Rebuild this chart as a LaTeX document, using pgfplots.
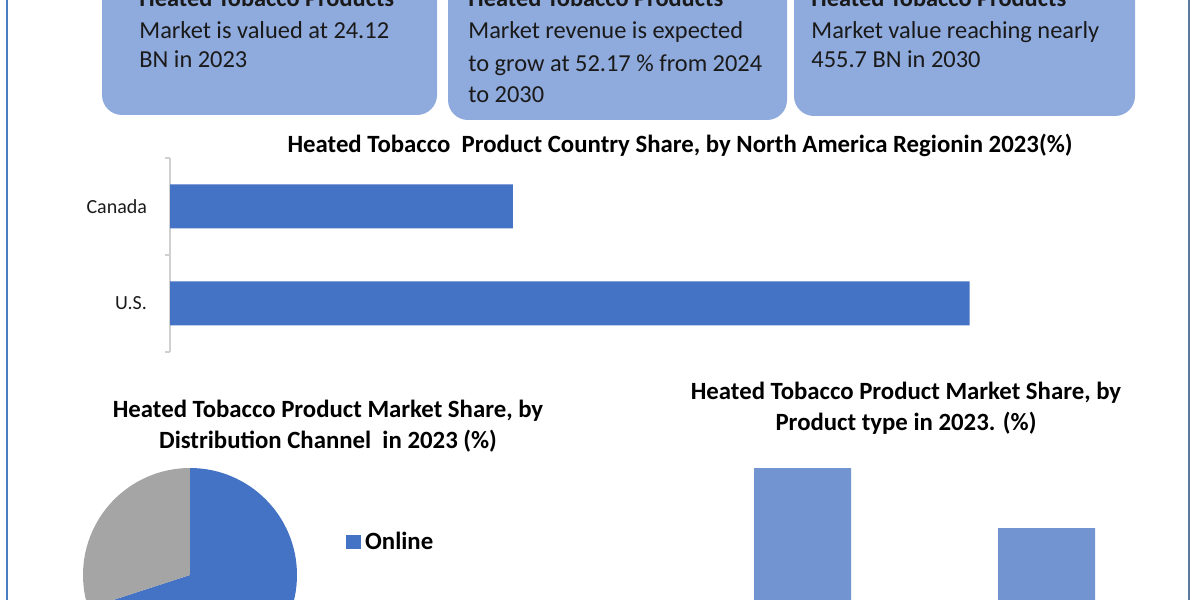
\documentclass[border=0pt]{standalone}
\usepackage{pgfplots}
\pgfplotsset{compat=1.18}
\usepackage{pgfplotstable}
\usepackage{fontspec}
\setmainfont{Carlito}
\definecolor{boxblue}{HTML}{8FAADC}
\definecolor{barblue}{HTML}{4472C4}
\definecolor{lightbar}{HTML}{7294D0}
\definecolor{piegray}{HTML}{A5A5A5}
\definecolor{edgeL}{HTML}{4A7EBF}
\definecolor{edgeR}{HTML}{5B7A9E}
\definecolor{txt}{HTML}{1A1A1A}
\definecolor{axgray}{HTML}{D0D0D0}

\pgfplotstableread{
country share
U.S. 70
Canada 30
}\countrydata

\pgfplotstableread{
channel share
Online 70
Offline 30
}\channeldata

\pgfplotstableread{
type share
TypeA 60
TypeB 40
}\typedata

\begin{document}
\pgfplotstablegetelem{0}{share}\of\channeldata \xdef\sOn{\pgfplotsretval}%
\pgfplotstablegetelem{1}{share}\of\channeldata \xdef\sOff{\pgfplotsretval}%
\begin{tikzpicture}
\path[use as bounding box] (0,0) rectangle (600pt,300pt);
\clip (0,0) rectangle (600pt,300pt);

\begin{scope}[x=0.5pt,y=-0.5pt,shift={(0pt,300pt)}]
  % border lines
  \draw[edgeL, line width=1.1pt] (7,-5) -- (7,605);
  \draw[edgeR, line width=1.1pt] (1189,-5) -- (1189,605);
  % boxes
  \fill[boxblue, rounded corners=10pt] (102,-40) rectangle (437,115);
  \fill[boxblue, rounded corners=10pt] (448,-40) rectangle (787,120);
  \fill[boxblue, rounded corners=10pt] (794,-40) rectangle (1135,116);
  \begin{scope}[every node/.style={anchor=base west, inner sep=0pt, text=txt, font=\fontsize{12.2}{14}\selectfont}]
    \node[font=\bfseries\fontsize{12.2}{14}\selectfont] at (139,7) {Heated Tobacco Products};
    \node at (139,39) {Market is valued at 24.12};
    \node at (139,68) {BN in 2023};
    \node[font=\bfseries\fontsize{12.2}{14}\selectfont] at (468,7) {Heated Tobacco Products};
    \node at (468,39) {Market revenue is expected};
    \node at (468,72) {to grow at 52.17 \% from 2024};
    \node at (468,103) {to 2030};
    \node[font=\bfseries\fontsize{12.2}{14}\selectfont] at (811,7) {Heated Tobacco Products};
    \node at (811,39) {Market value reaching nearly};
    \node at (811,68) {455.7 BN in 2030};
  \end{scope}
  % titles
  \node[font=\bfseries\fontsize{12.4}{14}\selectfont, text=black] at (680,145) {Heated Tobacco~ Product Country Share, by North America Regionin 2023(\%)};
  \node[font=\bfseries\fontsize{12.4}{15.5}\selectfont, text=black, align=center] at (328,426) {Heated Tobacco Product Market Share, by\\Distribution Channel~ in 2023 (\%)};
  \node[font=\bfseries\fontsize{12.4}{15.5}\selectfont, text=black, align=center] at (906,408.5) {Heated Tobacco Product Market Share, by\\Product type in 2023. (\%)};
\end{scope}

% country bar chart
\begin{axis}[at={(85pt,124pt)}, anchor=south west, scale only axis,
  width=457pt, height=97pt,
  xbar, bar width=22pt, xmin=0, xmax=80, ymin=-0.5, ymax=1.5,
  axis x line=none, axis y line*=left,
  y axis line style={draw=axgray, line width=0.8pt},
  ytick={0,1}, yticklabels={U.S.,Canada}, major tick length=0pt,
  extra y ticks={-0.5,0.5,1.5}, extra y tick labels={},
  extra y tick style={major tick length=2.5pt, tick align=outside, tick style={draw=axgray, line width=0.8pt}},
  yticklabel style={font=\fontsize{10}{12}\selectfont, text=txt, xshift=-8pt},
  clip=false]
\addplot[fill=barblue, draw=none] table[x=share, y expr=\coordindex] {\countrydata};
\end{axis}

% distribution channel pie
\begin{axis}[at={(41.5pt,-41pt)}, anchor=south west, scale only axis,
  width=107pt, height=107pt, xmin=-1, xmax=1, ymin=-1, ymax=1, hide axis, clip=false,
  legend style={at={(1.229,0.722)}, anchor=north west, draw=none, fill=none,
    font=\bfseries\fontsize{12.4}{14}\selectfont, inner sep=0pt, row sep=40pt,
    nodes={inner sep=2pt}},
  legend cell align=left]
\fill[barblue] (axis cs:0,0) -- (axis cs:0,1) arc[start angle=90, delta angle=-3.6*\sOn, radius=53.5pt] -- cycle;
\fill[piegray] (axis cs:0,0) -- (axis cs:0,1) arc[start angle=90, delta angle=3.6*\sOff, radius=53.5pt] -- cycle;
\addlegendimage{legend image code/.code={\fill[barblue] (0pt,-3.2pt) rectangle (7pt,3.2pt);}}
\addlegendentry{Online}
\addlegendimage{legend image code/.code={\fill[piegray] (0pt,-3.2pt) rectangle (7pt,3.2pt);}}
\addlegendentry{Offline}
\end{axis}

% product type bars
\begin{axis}[at={(340.25pt,-24pt)}, anchor=south west, scale only axis,
  width=244pt, height=90pt, ybar, bar width=48.5pt,
  xmin=-0.5, xmax=1.5, ymin=0, ymax=60, hide axis, clip=false]
\addplot[fill=lightbar, draw=none] table[x expr=\coordindex, y=share] {\typedata};
\end{axis}
\end{tikzpicture}
\end{document}
